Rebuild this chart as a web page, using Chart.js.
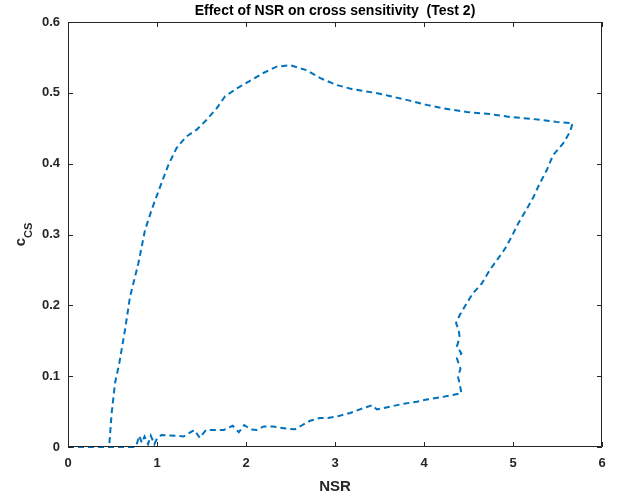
<!DOCTYPE html>
<html>
<head>
<meta charset="utf-8">
<script src="https://cdn.jsdelivr.net/npm/chart.js@4.4.1/dist/chart.umd.min.js"></script>
<style>
html,body{margin:0;padding:0;background:#fff;}
#wrap{width:633px;height:499px;position:relative;}
</style>
</head>
<body>
<div id="wrap"><canvas id="c" width="633" height="499"></canvas></div>
<script>
const chartTitle = 'Effect of NSR on cross sensitivity  (Test 2)';
const xTitle = 'NSR';
const xTicks = [0, 1, 2, 3, 4, 5, 6];
const yTicks = [0, 0.1, 0.2, 0.3, 0.4, 0.5, 0.6];
const yTickLabels = ['0', '0.1', '0.2', '0.3', '0.4', '0.5', '0.6'];

// NSR values along the loop (bottom branch -> right side -> top -> left branch)
const nsr = [0, 0.46, 0.74, 0.77, 0.80, 0.83, 0.86, 0.90, 0.93, 0.97, 1.00, 1.05, 1.30, 1.42, 1.48, 1.55, 1.75, 1.85, 1.92, 1.98, 2.05, 2.12, 2.20, 2.30, 2.45, 2.55, 2.62, 2.72, 2.83, 2.92, 3.02, 3.17, 3.32, 3.42, 3.47, 3.62, 3.77, 3.92, 4.03, 4.18, 4.30, 4.42,
  4.40, 4.38, 4.41, 4.37, 4.42, 4.37, 4.40, 4.39, 4.36, 4.40, 4.48, 4.55, 4.65, 4.74, 4.85, 4.91, 4.985, 5.06, 5.15, 5.23, 5.30, 5.38, 5.45, 5.565, 5.64, 5.67,
  5.49, 5.225, 4.966, 4.74, 4.48, 4.22, 4.03, 3.84, 3.60, 3.45, 3.20, 3.02, 2.83, 2.68, 2.494, 2.345, 2.195, 2.045, 1.895, 1.764, 1.67, 1.558, 1.446, 1.326, 1.22, 1.127, 1.034, 0.94, 0.865, 0.79, 0.697, 0.64, 0.576, 0.528, 0.49, 0.464];
const ccs = [0, 0, 0, 0.003, 0.016, 0.006, 0.015, 0.004, 0.016, 0.004, 0.012, 0.017, 0.015, 0.024, 0.013, 0.024, 0.024, 0.030, 0.021, 0.031, 0.025, 0.024, 0.029, 0.029, 0.026, 0.025, 0.030, 0.037, 0.041, 0.041, 0.043, 0.048, 0.055, 0.059, 0.053, 0.057, 0.061, 0.064, 0.067, 0.070, 0.073, 0.076,
  0.090, 0.100, 0.110, 0.125, 0.132, 0.142, 0.155, 0.165, 0.175, 0.186, 0.203, 0.217, 0.231, 0.250, 0.269, 0.280, 0.297, 0.316, 0.335, 0.353, 0.372, 0.391, 0.412, 0.429, 0.445, 0.457,
  0.459, 0.463, 0.466, 0.470, 0.473, 0.478, 0.483, 0.489, 0.496, 0.500, 0.505, 0.511, 0.521, 0.532, 0.539, 0.537, 0.528, 0.517, 0.506, 0.495, 0.478, 0.462, 0.448, 0.438, 0.422, 0.398, 0.367, 0.335, 0.306, 0.259, 0.212, 0.165, 0.118, 0.090, 0.047, 0.003];

const axisColor = '#262626';
const fontFam = '"Liberation Sans", Arial, Helvetica, sans-serif';

const framePlugin = {
  id: 'frame',
  afterDraw(chart) {
    const ctx = chart.ctx;
    const a = chart.chartArea;
    const xs = chart.scales.x, ys = chart.scales.y;
    ctx.save();
    ctx.strokeStyle = axisColor;
    ctx.lineWidth = 1;
    ctx.beginPath();
    ctx.rect(a.left + 0.5, a.top + 0.5, a.right - a.left - 1, a.bottom - a.top - 1);
    ctx.stroke();
    const tl = 5;
    ctx.beginPath();
    xTicks.forEach(v => {
      const px = Math.round(xs.getPixelForValue(v)) + 0.5;
      ctx.moveTo(px, a.bottom); ctx.lineTo(px, a.bottom - tl);
      ctx.moveTo(px, a.top); ctx.lineTo(px, a.top + tl);
    });
    yTicks.forEach(v => {
      const py = Math.round(ys.getPixelForValue(v)) + 0.5;
      ctx.moveTo(a.left, py); ctx.lineTo(a.left + tl, py);
      ctx.moveTo(a.right, py); ctx.lineTo(a.right - tl, py);
    });
    ctx.stroke();
    // title
    ctx.fillStyle = '#000';
    ctx.font = 'bold 14px ' + fontFam;
    ctx.textAlign = 'center';
    ctx.textBaseline = 'middle';
    ctx.fillText(chartTitle, (a.left + a.right) / 2, 11);
    // x title
    ctx.fillStyle = axisColor;
    ctx.font = 'bold 15px ' + fontFam;
    ctx.fillText(xTitle, (a.left + a.right) / 2, 487);
    // y title c_CS
    ctx.translate(20, (a.top + a.bottom) / 2);
    ctx.rotate(-Math.PI / 2);
    ctx.textAlign = 'left';
    ctx.textBaseline = 'alphabetic';
    ctx.font = 'bold 15px ' + fontFam;
    const cw = ctx.measureText('c').width;
    ctx.font = 'bold 11px ' + fontFam;
    const sw = ctx.measureText('CS').width;
    const total = cw + sw;
    ctx.font = 'bold 15px ' + fontFam;
    ctx.fillText('c', -total / 2, 5);
    ctx.font = 'bold 11px ' + fontFam;
    ctx.fillText('CS', -total / 2 + cw, 12);
    ctx.restore();
  }
};

new Chart(document.getElementById('c'), {
  type: 'scatter',
  data: {
    datasets: [{
      data: nsr.map((x, i) => ({ x: x, y: ccs[i] })),
      showLine: true,
      borderColor: '#0072BD',
      borderWidth: 2,
      borderDash: [6, 4],
      pointRadius: 0,
      tension: 0,
      fill: false,
      clip: 4
    }]
  },
  options: {
    responsive: false,
    animation: false,
    events: [],
    layout: { padding: { top: 22, right: 31, left: 0, bottom: 0 } },
    plugins: { legend: { display: false }, tooltip: { enabled: false }, title: { display: false } },
    scales: {
      x: {
        type: 'linear', min: 0, max: 6,
        grid: { display: false, drawTicks: false },
        border: { display: false },
        afterFit: s => { s.height = 52; },
        afterBuildTicks: s => { s.ticks = xTicks.map(v => ({ value: v })); },
        ticks: {
          color: axisColor, padding: 9,
          font: { family: fontFam, size: 13, weight: 'bold' },
          callback: v => String(v), maxRotation: 0, autoSkip: false
        }
      },
      y: {
        type: 'linear', min: 0, max: 0.6,
        grid: { display: false, drawTicks: false },
        border: { display: false },
        afterFit: s => { s.width = 68; },
        afterBuildTicks: s => { s.ticks = yTicks.map(v => ({ value: v })); },
        ticks: {
          color: axisColor, padding: 8,
          font: { family: fontFam, size: 13, weight: 'bold' },
          callback: (v) => { const i = yTicks.findIndex(t => Math.abs(t - v) < 1e-9); return i >= 0 ? yTickLabels[i] : ''; },
          autoSkip: false
        }
      }
    }
  },
  plugins: [framePlugin]
});
</script>
</body>
</html>
